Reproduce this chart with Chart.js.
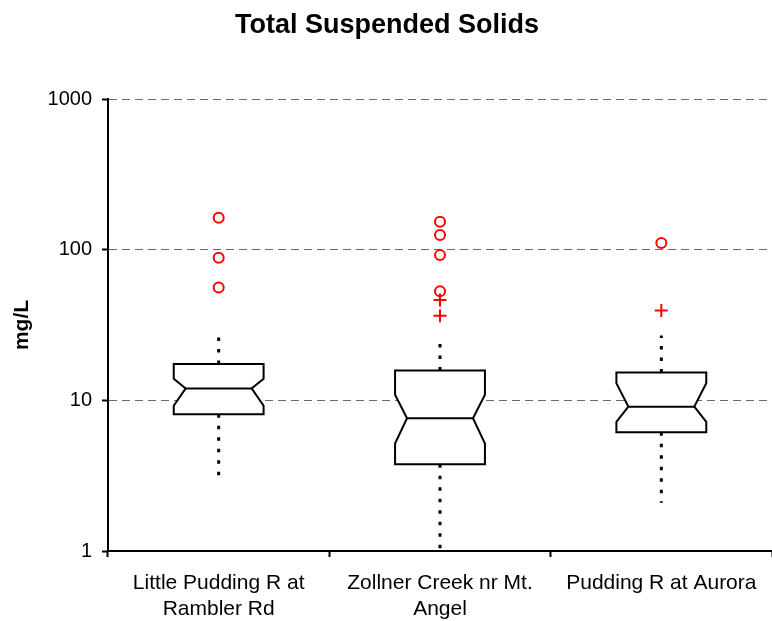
<!DOCTYPE html>
<html>
<head>
<meta charset="utf-8">
<script src="https://cdn.jsdelivr.net/npm/chart.js@4.4.1/dist/chart.umd.min.js"></script>
<style>
  html, body { margin: 0; padding: 0; background: #ffffff; }
  #wrap { width: 772px; height: 621px; }
</style>
</head>
<body>
<div id="wrap"><canvas id="c" width="772" height="621"></canvas></div>
<script>
// ---- data ----
const categories = [['Little Pudding R at', 'Rambler Rd'], ['Zollner Creek nr Mt.', 'Angel'], ['Pudding R at Aurora']];
const whiskerLow  = [3.06, 1.0, 2.09];
const q1          = [8.07, 3.77, 6.14];
const notchLow    = [9.2, 5.17, 7.2];
const median      = [12.0, 7.6, 9.08];
const notchHigh   = [13.9, 10.9, 13.0];
const q3          = [17.4, 15.8, 15.3];
const whiskerHigh = [26.5, 24.0, 26.9];
const outlierCircles = [[163, 88.5, 56], [153, 125, 92, 53], [110.7]];
const outlierCrosses = [[], [46.4, 36.4], [39.5]];
const yTicks = [1, 10, 100, 1000];

// internal-format points: x = category index
const circlePoints = [];
outlierCircles.forEach((arr, i) => arr.forEach(v => circlePoints.push({x: i, y: v})));
const crossPoints = [];
outlierCrosses.forEach((arr, i) => arr.forEach(v => crossPoints.push({x: i, y: v})));

const mainFont = "'Liberation Sans', Arial, sans-serif";

const boxPlugin = {
  id: 'notchedBoxes',
  beforeDatasetsDraw(chart) {
    const ctx = chart.ctx;
    const xs = chart.scales.x, ys = chart.scales.y;
    const catW = xs.getPixelForValue(1) - xs.getPixelForValue(0);
    const halfBox = catW * 0.203;
    const halfNotch = catW * 0.149;
    ctx.save();
    for (let i = 0; i < categories.length; i++) {
      const cx = xs.getPixelForValue(i);
      const yQ1 = ys.getPixelForValue(q1[i]);
      const yQ3 = ys.getPixelForValue(q3[i]);
      const yNL = ys.getPixelForValue(notchLow[i]);
      const yNH = ys.getPixelForValue(notchHigh[i]);
      const yMed = ys.getPixelForValue(median[i]);
      const yWL = ys.getPixelForValue(whiskerLow[i]);
      const yWH = ys.getPixelForValue(whiskerHigh[i]);
      // whiskers (dotted)
      ctx.strokeStyle = '#000';
      ctx.lineWidth = 3;
      ctx.setLineDash([3.5, 8]);
      ctx.beginPath();
      ctx.moveTo(cx, yQ3); ctx.lineTo(cx, yWH);
      ctx.moveTo(cx, yQ1); ctx.lineTo(cx, yWL);
      ctx.stroke();
      // notched box
      ctx.setLineDash([]);
      ctx.lineWidth = 2;
      ctx.lineJoin = 'miter';
      ctx.beginPath();
      ctx.moveTo(cx - halfBox, yQ3);
      ctx.lineTo(cx + halfBox, yQ3);
      ctx.lineTo(cx + halfBox, yNH);
      ctx.lineTo(cx + halfNotch, yMed);
      ctx.lineTo(cx + halfBox, yNL);
      ctx.lineTo(cx + halfBox, yQ1);
      ctx.lineTo(cx - halfBox, yQ1);
      ctx.lineTo(cx - halfBox, yNL);
      ctx.lineTo(cx - halfNotch, yMed);
      ctx.lineTo(cx - halfBox, yNH);
      ctx.closePath();
      ctx.fillStyle = '#fff';
      ctx.fill();
      ctx.stroke();
      // median
      ctx.beginPath();
      ctx.moveTo(cx - halfNotch, yMed);
      ctx.lineTo(cx + halfNotch, yMed);
      ctx.stroke();
    }
    ctx.restore();
  }
};

new Chart(document.getElementById('c'), {
  type: 'line',
  data: {
    labels: categories,
    datasets: [
      {
        label: 'outliers',
        data: circlePoints,
        parsing: false,
        normalized: true,
        showLine: false,
        pointStyle: 'circle',
        pointRadius: 5,
        pointBorderWidth: 2,
        pointBorderColor: '#ff0000',
        pointBackgroundColor: 'rgba(0,0,0,0)'
      },
      {
        label: 'extreme',
        data: crossPoints,
        parsing: false,
        normalized: true,
        showLine: false,
        pointStyle: 'cross',
        pointRadius: 6.5,
        pointBorderWidth: 2,
        pointBorderColor: '#ff0000',
        pointBackgroundColor: '#ff0000'
      }
    ]
  },
  options: {
    responsive: false,
    animation: false,
    devicePixelRatio: 1,
    layout: { autoPadding: false, padding: { left: 0, right: -2, top: 0, bottom: 0 } },
    plugins: {
      legend: { display: false },
      tooltip: { enabled: false },
      title: {
        display: true,
        text: 'Total Suspended Solids',
        color: '#000',
        font: { family: mainFont, size: 27, weight: 'bold', lineHeight: 1.2 },
        padding: { top: 9, bottom: 57.6 }
      }
    },
    scales: {
      x: {
        type: 'category',
        offset: true,
        grid: {
          offset: true,
          drawOnChartArea: false,
          drawTicks: true,
          tickLength: 6,
          tickColor: '#000',
          tickWidth: 2
        },
        border: { display: true, color: '#000', width: 2 },
        ticks: {
          color: '#000',
          font: { family: mainFont, size: 21, lineHeight: 1.2 },
          padding: 14,
          maxRotation: 0,
          autoSkip: false
        },
        afterFit(scale) {
          scale.height = 70;
          scale.paddingLeft = 0;
          scale.paddingRight = 0;
        }
      },
      y: {
        type: 'logarithmic',
        min: 1,
        max: 1000,
        afterBuildTicks(scale) { scale.ticks = yTicks.map(v => ({ value: v })); },
        grid: {
          color: (c) => (c.tick && c.tick.value === 1) ? 'rgba(0,0,0,0)' : '#6a6a6a',
          lineWidth: 1,
          drawTicks: true,
          tickLength: 6,
          tickColor: '#000',
          tickWidth: 2,
          tickBorderDash: []
        },
        border: { display: true, color: '#000', width: 2, dash: [8, 5] },
        ticks: {
          color: '#000',
          font: { family: mainFont, size: 20 },
          padding: 10,
          callback: (v) => String(v)
        },
        title: {
          display: true,
          text: 'mg/L',
          color: '#000',
          font: { family: mainFont, size: 21, weight: 'bold', lineHeight: 1.2 },
          padding: { top: 9.4, bottom: 0 }
        },
        afterFit(scale) { scale.width = 108; }
      }
    }
  },
  plugins: [boxPlugin]
});
</script>
</body>
</html>
